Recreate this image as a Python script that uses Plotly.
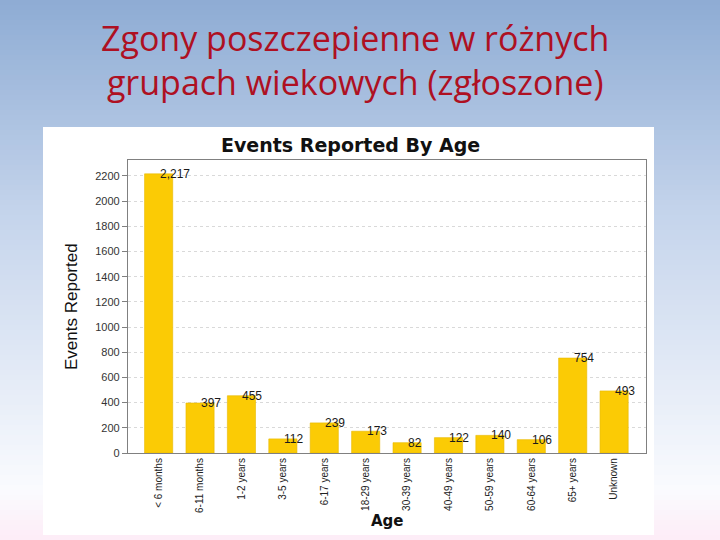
import plotly.graph_objects as go

# ---- data ----
categories = ["< 6 months", "6-11 months", "1-2 years", "3-5 years", "6-17 years",
              "18-29 years", "30-39 years", "40-49 years", "50-59 years",
              "60-64 years", "65+ years", "Unknown"]
events = [2217, 397, 455, 112, 239, 173, 82, 122, 140, 106, 754, 493]
value_labels = ["2,217", "397", "455", "112", "239", "173", "82", "122", "140", "106", "754", "493"]
y_ticks = [0, 200, 400, 600, 800, 1000, 1200, 1400, 1600, 1800, 2000, 2200]

W, H = 720, 540
L, R, T, B = 128, 646, 160, 453  # plot area in pixels


def px_x(p):
    return (p - L) / (R - L)


def px_y(p):
    return (B - p) / (B - T)


def lerp(c1, c2, t):
    return tuple(int(round(a + (b - a) * t)) for a, b in zip(c1, c2))


# gradient stops (pixel y, rgb)
stops = [(0, (142, 172, 212)), (220, (198, 213, 236)), (400, (232, 238, 248)),
         (490, (250, 251, 254)), (540, (253, 236, 247))]

shapes = []
step = 5
for y0 in range(0, H, step):
    yc = y0 + step / 2
    for i in range(len(stops) - 1):
        if stops[i][0] <= yc <= stops[i + 1][0]:
            t = (yc - stops[i][0]) / (stops[i + 1][0] - stops[i][0])
            c = lerp(stops[i][1], stops[i + 1][1], t)
            break
    shapes.append(dict(type="rect", xref="paper", yref="paper", layer="below",
                       x0=px_x(0), x1=px_x(W), y0=px_y(y0 + step + 0.5), y1=px_y(y0),
                       fillcolor="rgb(%d,%d,%d)" % c, line=dict(width=0)))

# white chart box
shapes.append(dict(type="rect", xref="paper", yref="paper", layer="below",
                   x0=px_x(43), x1=px_x(654), y0=px_y(535), y1=px_y(127),
                   fillcolor="white", line=dict(width=0)))

fig = go.Figure()
fig.add_trace(go.Bar(x=list(range(len(categories))), y=events,
                     marker=dict(color="#FBCB05", line=dict(color="#E8B800", width=0.6)),
                     width=0.68, hoverinfo="x+y"))

annotations = []
for i, (v, lab) in enumerate(zip(events, value_labels)):
    annotations.append(dict(x=i, y=v, xref="x", yref="y", text=lab, showarrow=False,
                            xanchor="left", yanchor="middle", xshift=-1,
                            font=dict(family="Liberation Sans, Arial", size=12, color="#1a1a1a")))

# slide title
annotations.append(dict(x=px_x(355), y=px_y(60), xref="paper", yref="paper",
                        text="Zgony poszczepienne w różnych<br>grupach wiekowych (zgłoszone)",
                        showarrow=False, xanchor="center", yanchor="middle", align="center",
                        font=dict(family="Open Sans", size=34, color="#AE1022")))
# chart title
annotations.append(dict(x=px_x(350), y=px_y(145), xref="paper", yref="paper",
                        text="<b>Events Reported By Age</b>", showarrow=False,
                        xanchor="center", yanchor="middle",
                        font=dict(family="DejaVu Sans", size=19, color="#111111")))
# x axis title
annotations.append(dict(x=px_x(387), y=px_y(521), xref="paper", yref="paper",
                        text="<b>Age</b>", showarrow=False, xanchor="center", yanchor="middle",
                        font=dict(family="DejaVu Sans", size=15, color="#111111")))
# y axis title
annotations.append(dict(x=px_x(71), y=px_y(307), xref="paper", yref="paper",
                        text="Events Reported", showarrow=False, textangle=-90,
                        xanchor="center", yanchor="middle",
                        font=dict(family="Liberation Sans Narrow, Arial Narrow, Liberation Sans", size=17,
                                  color="#111111")))

fig.update_layout(
    width=W, height=H,
    margin=dict(l=L, r=W - R, t=T, b=H - B, pad=0),
    paper_bgcolor="rgba(0,0,0,0)", plot_bgcolor="white",
    showlegend=False, bargap=0.32,
    shapes=shapes, annotations=annotations,
    xaxis=dict(range=[-0.74, 11.77], tickmode="array",
               tickvals=list(range(len(categories))), ticktext=categories,
               tickangle=-90, showgrid=False, zeroline=False,
               showline=True, linecolor="#808080", linewidth=1.2, mirror=True,
               ticks="", ticklen=0,
               tickfont=dict(family="Liberation Sans, Arial", size=10, color="#222222")),
    yaxis=dict(range=[0, 2327], tickmode="array", tickvals=y_ticks,
               showgrid=True, gridcolor="#D9D9D9", griddash="dot", gridwidth=1,
               zeroline=False, showline=True, linecolor="#808080", linewidth=1.2, mirror=True,
               ticks="outside", ticklen=5, tickcolor="#808080",
               tickfont=dict(family="Liberation Sans, Arial", size=11, color="#333333")),
)

fig.write_html("out.html")
